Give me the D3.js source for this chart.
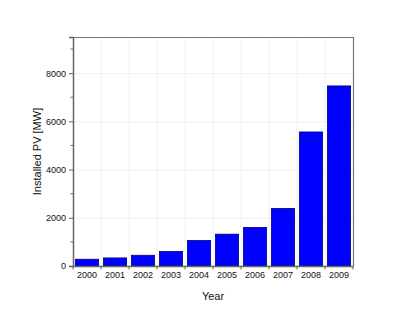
<!DOCTYPE html>
<html>
<head>
<meta charset="utf-8">
<script src="https://cdn.jsdelivr.net/npm/d3@7"></script>
<style>
  body { margin: 0; background: #fff; }
  svg { display: block; font-family: "Liberation Sans", Arial, sans-serif; }
</style>
</head>
<body>
<div id="graph"></div>
<script>
const years = ["2000", "2001", "2002", "2003", "2004", "2005", "2006", "2007", "2008", "2009"];
const installed = [280, 335, 445, 600, 1055, 1320, 1600, 2390, 5560, 7470];
const yTicks = [0, 2000, 4000, 6000, 8000];
const yMinorTicks = [1000, 3000, 5000, 7000, 9000];

const w = 412, h = 319;
const margin = { left: 73, top: 37, right: 59, bottom: 53 };
const innerW = w - margin.left - margin.right;
const innerH = h - margin.top - margin.bottom;

const svg = d3.select("div#graph").append("svg")
  .attr("width", w)
  .attr("height", h);

const g = svg.append("g")
  .attr("transform", "translate(" + margin.left + "," + margin.top + ")");

const x = d3.scaleBand().domain(years).range([0, innerW]).paddingInner(0.17).paddingOuter(0.085);
const y = d3.scaleLinear().domain([0, 9500]).range([innerH, 0]);

// faint grid
const step = innerW / years.length;
g.append("g").selectAll("line.vg")
  .data(d3.range(1, years.length))
  .enter().append("line")
  .attr("x1", d => d * step).attr("x2", d => d * step)
  .attr("y1", 0).attr("y2", innerH)
  .attr("stroke", "#f0f0f0").attr("stroke-width", 1);

g.append("g").selectAll("line.hg")
  .data(yTicks.slice(1))
  .enter().append("line")
  .attr("x1", 0).attr("x2", innerW)
  .attr("y1", d => y(d) + 0.5).attr("y2", d => y(d) + 0.5)
  .attr("stroke", "#f0f0f0").attr("stroke-width", 1);

// bars
g.selectAll("rect.bar")
  .data(installed)
  .enter().append("rect")
  .attr("x", (d, i) => x(years[i]))
  .attr("y", d => y(d))
  .attr("width", x.bandwidth())
  .attr("height", d => innerH - y(d))
  .attr("fill", "#0000ff")
  .attr("stroke", "#00007a")
  .attr("stroke-width", 0.8);

// frame top / right
g.append("line").attr("x1", 0).attr("x2", innerW).attr("y1", 0.5).attr("y2", 0.5)
  .attr("stroke", "#777").attr("stroke-width", 1.2);
g.append("line").attr("x1", innerW + 0.5).attr("x2", innerW + 0.5).attr("y1", 0).attr("y2", innerH)
  .attr("stroke", "#777").attr("stroke-width", 1.2);

// y axis
const yAxis = g.append("g")
  .call(d3.axisLeft(y).tickValues(yTicks).tickSize(4).tickPadding(3).tickFormat(d3.format("d")));
yAxis.select(".domain").attr("stroke", "#666").attr("stroke-width", 1.5);
yAxis.selectAll(".tick line").attr("stroke", "#666");
yAxis.selectAll("text").style("font-size", "9px").attr("fill", "#111");

g.append("g").selectAll("line.minor")
  .data(yMinorTicks)
  .enter().append("line")
  .attr("x1", -2.5).attr("x2", 0)
  .attr("y1", d => y(d)).attr("y2", d => y(d))
  .attr("stroke", "#666");

// x axis
const xAxis = g.append("g")
  .attr("transform", "translate(0," + innerH + ")")
  .call(d3.axisBottom(x).tickSize(0).tickPadding(6));
xAxis.select(".domain").attr("stroke", "#666").attr("stroke-width", 1.5);
xAxis.selectAll("text").style("font-size", "9px").attr("fill", "#111");

g.append("g").selectAll("line.xt")
  .data(d3.range(0, years.length + 1))
  .enter().append("line")
  .attr("x1", d => d * step).attr("x2", d => d * step)
  .attr("y1", innerH).attr("y2", innerH + 3.5)
  .attr("stroke", "#666");

// labels
svg.append("text")
  .attr("x", margin.left + innerW / 2)
  .attr("y", 300)
  .attr("text-anchor", "middle")
  .style("font-size", "11px")
  .attr("fill", "#111")
  .text("Year");

svg.append("text")
  .attr("transform", "translate(41," + (margin.top + innerH / 2) + ") rotate(-90)")
  .attr("text-anchor", "middle")
  .style("font-size", "11px")
  .attr("fill", "#111")
  .text("Installed PV [MW]");
</script>
</body>
</html>
